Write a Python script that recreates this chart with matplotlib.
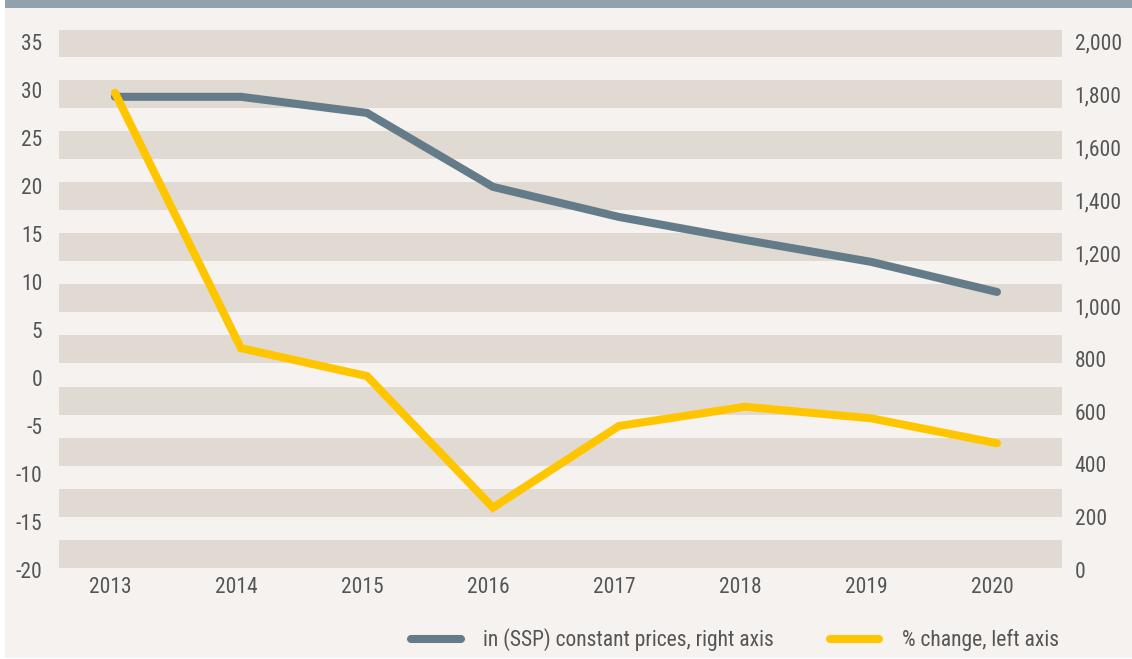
import matplotlib.pyplot as plt
from matplotlib.patches import Rectangle
from matplotlib.transforms import ScaledTranslation

years = ["2013", "2014", "2015", "2016", "2017", "2018", "2019", "2020"]
constant_prices = [1792, 1792, 1731, 1451, 1337, 1250, 1167, 1053]
pct_change = [29.7, 3.1, 0.2, -13.5, -5.0, -3.0, -4.2, -6.8]

left_ticks = [-20, -15, -10, -5, 0, 5, 10, 15, 20, 25, 30, 35]
right_ticks = [0, 200, 400, 600, 800, 1000, 1200, 1400, 1600, 1800, 2000]
right_labels = ["0", "200", "400", "600", "800", "1,000", "1,200", "1,400", "1,600", "1,800", "2,000"]

bg = "#f5f2f0"
band = "#e1dad3"
grey_line = "#647c89"
yellow = "#ffc600"
txt = "#555555"
fs = 15.5

plt.rcParams["font.family"] = ["Roboto Condensed", "Liberation Sans Narrow", "Roboto", "DejaVu Sans"]

fig = plt.figure(figsize=(11.32, 6.59), dpi=100)
fig.patch.set_facecolor("white")
W, H = 1132, 659
fig.patches.append(Rectangle((5 / W, 1 / H), 1 - 5 / W, 650 / H, transform=fig.transFigure,
                             facecolor=bg, edgecolor="none", zorder=-10))
fig.patches.append(Rectangle((5 / W, 651 / H), 1 - 5 / W, 8 / H, transform=fig.transFigure,
                             facecolor="#93a0ae", edgecolor="none", zorder=-10))

ax = fig.add_axes([59 / W, 1 - 570 / H, 1003 / W, 540 / H])
ax.set_facecolor("none")
ax2 = ax.twinx()

x = list(range(len(years)))
rtop = 2045
ax2.set_ylim(0, rtop)
ax.set_ylim(-20, -20 + rtop * 55 / 2000)
ax.set_xlim(-0.444, 7.516)

# background bands
for i in range(11):
    b = 8 + 193.6 * i
    ax2.axhspan(b, b + 106, color=band, zorder=0, lw=0)

ax2.plot(x, constant_prices, color=grey_line, lw=5.8, solid_capstyle="round",
         solid_joinstyle="miter", zorder=3, label="in (SSP) constant prices, right axis")
ax2.plot([], [], color=yellow, lw=5.8, solid_capstyle="round",
         label="% change, left axis")
ax.plot(x, pct_change, color=yellow, lw=5.8, solid_capstyle="round",
        solid_joinstyle="miter", zorder=4)
ax.set_zorder(ax2.get_zorder() + 1)

ax.set_yticks(left_ticks)
ax.set_yticklabels([str(v) for v in left_ticks])
ax2.set_yticks(right_ticks)
ax2.set_yticklabels(right_labels)
ax.set_xticks(x)
ax.set_xticklabels(years)

for a in (ax, ax2):
    for s in a.spines.values():
        s.set_visible(False)
    a.tick_params(length=0, labelsize=fs, labelcolor=txt)
ax.tick_params(axis="y", pad=12)
ax2.tick_params(axis="y", pad=9)
ax.tick_params(axis="x", pad=5)
off = ScaledTranslation(-5 / 100, 0, fig.dpi_scale_trans)
for lab in ax.get_xticklabels():
    lab.set_transform(lab.get_transform() + off)

h, l = ax2.get_legend_handles_labels()
fig.legend(h, l, loc="center left", bbox_to_anchor=(411 / W, 1 - 640 / H), ncol=2,
           frameon=False, fontsize=fs, labelcolor=txt, handlelength=2.3,
           handletextpad=1.05, columnspacing=2.6, borderpad=0, borderaxespad=0)

fig.savefig("out.png", dpi=100, facecolor=fig.get_facecolor())
